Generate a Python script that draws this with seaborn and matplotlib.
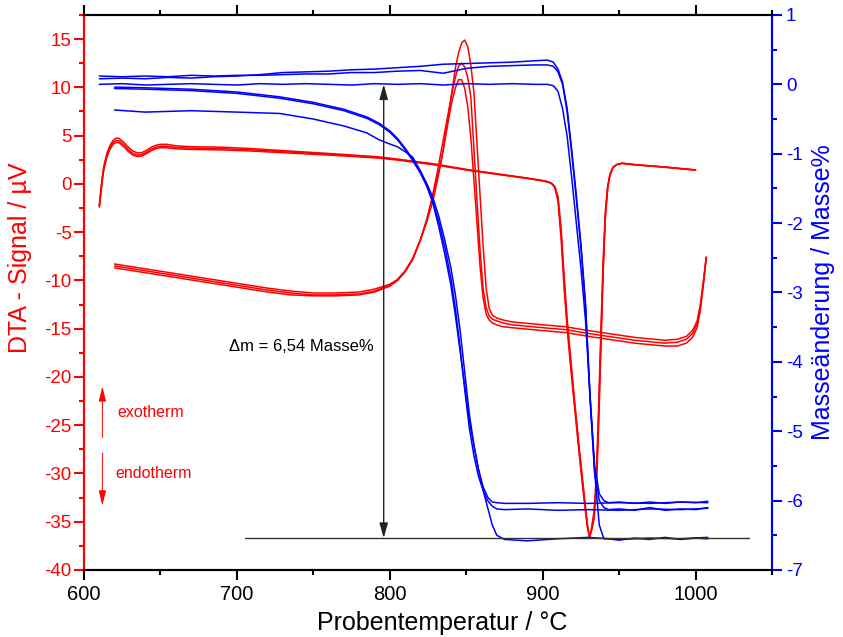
import numpy as np
import pandas as pd
import matplotlib
matplotlib.use("Agg")
import matplotlib.pyplot as plt
import seaborn as sns
from matplotlib.ticker import MultipleLocator

# --- DTA (left axis, µV) ---------------------------------------------------
t_dta_heat = [610, 611, 612, 613, 615, 617, 619, 621, 623, 626,
              629, 632, 635, 638, 641, 644, 647, 650, 654, 660,
              670, 690, 710, 740, 770, 793, 806, 830, 850, 870,
              890, 900, 904, 906, 908, 910, 912, 914, 916, 918,
              920, 922, 924, 926, 928, 929.5, 930.7, 932, 933.5, 935,
              936.5, 938, 939.5, 941, 942.5, 944, 946, 949, 952, 960,
              980, 1000]
dta_heat_1 = [-2.2, -0.6, 0.8, 1.9, 3.2, 4.0, 4.5, 4.75, 4.7, 4.3,
              3.8, 3.4, 3.2, 3.25, 3.5, 3.8, 4.0, 4.1, 4.1, 3.95,
              3.85, 3.8, 3.65, 3.35, 3.05, 2.8, 2.55, 2.05, 1.5, 1.05,
              0.6, 0.35, 0.2, 0.05, -0.3, -1.3, -4.5, -9.5, -14.0, -17.5,
              -21.0, -24.3, -27.5, -30.5, -33.5, -35.6, -36.6, -35.9, -34.8, -32.0,
              -25.5, -17.5, -9.5, -3.5, -0.5, 0.9, 1.7, 2.05, 2.15, 2.0,
              1.75, 1.45]
dta_heat_2 = [-2.3, -0.8, 0.6, 1.7, 3.0, 3.8, 4.3, 4.5, 4.45, 4.05,
              3.55, 3.15, 2.98, 3.05, 3.3, 3.6, 3.8, 3.9, 3.9, 3.78,
              3.7, 3.65, 3.52, 3.25, 2.97, 2.73, 2.5, 2.0, 1.47, 1.02,
              0.58, 0.33, 0.18, 0.02, -0.4, -1.8, -5.6, -10.8, -15.0, -18.5,
              -21.8, -25.0, -28.2, -31.2, -34.0, -35.8, -36.5, -35.6, -34.0, -30.5,
              -23.5, -15.5, -8.0, -2.8, -0.2, 1.0, 1.75, 2.05, 2.12, 1.98,
              1.72, 1.42]
dta_heat_3 = [-2.4, -1.0, 0.4, 1.5, 2.8, 3.6, 4.1, 4.3, 4.25, 3.85,
              3.35, 2.97, 2.83, 2.9, 3.15, 3.45, 3.65, 3.75, 3.75, 3.63,
              3.57, 3.52, 3.4, 3.15, 2.9, 2.67, 2.45, 1.96, 1.44, 1.0,
              0.56, 0.31, 0.16, 0.0, -0.35, -1.5, -5.0, -10.0, -14.5, -18.0,
              -21.4, -24.6, -27.8, -30.8, -33.8, -35.7, -36.6, -35.8, -34.5, -31.5,
              -24.5, -16.5, -8.8, -3.2, -0.4, 0.95, 1.72, 2.04, 2.13, 1.99,
              1.74, 1.44]

t_dta_cool = [1007, 1005, 1003, 1001, 998, 994, 988, 980, 960, 930,
              915, 900, 880, 874, 870, 867, 865, 863, 861, 859,
              857, 855, 853, 851, 849, 847, 845, 843, 841, 839,
              837, 835, 833, 831, 829, 827, 824, 820, 815, 810,
              805, 800, 790, 780, 765, 750, 735, 720, 700, 680,
              660, 640, 620]
dta_cool_1 = [-7.6, -10.2, -12.6, -14.2, -15.2, -15.8, -16.1, -16.2, -15.9, -15.2,
              -14.8, -14.6, -14.3, -14.1, -13.9, -13.6, -12.9, -10.8, -6.4, -1.1,
              4.2, 9.5, 12.3, 14.2, 14.9, 14.6, 13.6, 12.1, 10.0, 7.8,
              5.6, 3.6, 1.8, 0.3, -1.2, -2.4, -4.0, -5.8, -7.7, -9.0,
              -9.9, -10.4, -10.9, -11.2, -11.3, -11.3, -11.1, -10.8, -10.3, -9.8,
              -9.3, -8.8, -8.3]
dta_cool_2 = [-7.6, -10.4, -12.9, -14.5, -15.5, -16.1, -16.4, -16.5, -16.2, -15.5,
              -15.1, -14.9, -14.6, -14.4, -14.2, -14.0, -13.7, -12.8, -10.8, -6.8,
              -1.7, 3.7, 9.0, 11.0, 12.1, 12.5, 12.2, 11.1, 9.7, 8.0,
              6.3, 4.6, 2.9, 1.2, -0.4, -1.9, -3.8, -5.8, -7.8, -9.1,
              -10.0, -10.5, -11.1, -11.4, -11.5, -11.5, -11.3, -11.0, -10.5, -10.0,
              -9.5, -9.0, -8.5]
dta_cool_3 = [-7.6, -10.6, -13.2, -14.9, -15.9, -16.5, -16.8, -16.8, -16.5, -15.8,
              -15.4, -15.2, -14.9, -14.8, -14.6, -14.4, -14.1, -13.5, -11.8, -8.5,
              -4.0, 0.4, 4.8, 8.0, 9.9, 10.8, 10.8, 10.0, 8.8, 7.2,
              5.4, 3.6, 2.0, 0.6, -0.7, -2.0, -3.8, -5.8, -7.8, -9.1,
              -10.0, -10.6, -11.2, -11.5, -11.6, -11.6, -11.5, -11.2, -10.7, -10.2,
              -9.7, -9.2, -8.7]

# --- mass change (right axis, Masse%) -------------------------------------
t_mass_heat = [610, 625, 640, 655, 670, 685, 700, 715, 730, 745,
               760, 775, 790, 805, 820, 835, 850, 865, 880, 895,
               903, 907, 910, 913, 916, 919, 922, 925, 928, 931,
               934, 937, 940, 943, 950, 960, 970, 980, 990, 1000,
               1008]
mass_heat_1 = [0.08, 0.09, 0.08, 0.10, 0.09, 0.11, 0.12, 0.14, 0.17, 0.18,
               0.19, 0.21, 0.22, 0.24, 0.26, 0.29, 0.30, 0.31, 0.32, 0.34,
               0.35, 0.32, 0.22, 0.03, -0.35, -0.95, -1.6, -2.3, -3.15, -4.5,
               -5.5, -5.9, -6.0, -6.03, -6.02, -6.04, -6.02, -6.04, -6.02, -6.03,
               -6.01]
mass_heat_2 = [0.12, 0.11, 0.12, 0.11, 0.13, 0.12, 0.13, 0.13, 0.14, 0.15,
               0.15, 0.17, 0.17, 0.19, 0.20, 0.16, 0.23, 0.26, 0.27, 0.28,
               0.28, 0.26, 0.18, 0.0, -0.4, -1.0, -1.65, -2.35, -3.2, -4.55,
               -5.6, -6.0, -6.1, -6.13, -6.12, -6.14, -6.1, -6.14, -6.12, -6.13,
               -6.1]
mass_heat_3 = [0.0, 0.01, -0.01, 0.0, 0.01, 0.0, -0.01, 0.01, 0.0, 0.01,
               0.0, -0.01, 0.01, 0.0, 0.01, -0.01, 0.01, 0.0, 0.01, 0.0,
               0.0, -0.02, -0.1, -0.35, -0.75, -1.35, -2.0, -2.65, -3.4, -4.5,
               -5.6, -6.35, -6.55, -6.55, -6.57, -6.54, -6.56, -6.53, -6.56, -6.54,
               -6.55]

t_mass_cool = [1008, 990, 970, 950, 930, 910, 890, 875, 870, 867,
               864, 861, 858, 855, 852, 849, 846, 843, 840, 836,
               832, 828, 824, 820, 815, 810, 805, 800, 793, 785,
               770, 750, 728, 700, 670, 640, 620]
mass_cool_1 = [-6.03, -6.02, -6.04, -6.03, -6.04, -6.03, -6.04, -6.04, -6.03, -6.02,
               -5.95, -5.8, -5.55, -5.2, -4.75, -4.15, -3.55, -3.05, -2.65, -2.25,
               -1.9, -1.62, -1.42, -1.25, -1.08, -0.92, -0.78, -0.67, -0.56, -0.47,
               -0.36, -0.26, -0.18, -0.11, -0.07, -0.05, -0.04]
mass_cool_2 = [-6.11, -6.13, -6.12, -6.14, -6.13, -6.14, -6.12, -6.13, -6.12, -6.08,
               -6.0, -5.85, -5.65, -5.35, -4.95, -4.4, -3.8, -3.25, -2.8, -2.35,
               -1.98, -1.68, -1.46, -1.28, -1.1, -0.94, -0.8, -0.69, -0.58, -0.49,
               -0.38, -0.28, -0.2, -0.13, -0.09, -0.07, -0.06]
mass_cool_3 = [-6.53, -6.55, -6.54, -6.56, -6.53, -6.55, -6.58, -6.56, -6.5, -6.35,
               -6.1, -5.85, -5.55, -5.2, -4.85, -4.35, -3.85, -3.35, -2.9, -2.45,
               -2.05, -1.7, -1.45, -1.25, -1.05, -0.97, -0.9, -0.86, -0.8, -0.7,
               -0.6, -0.5, -0.42, -0.4, -0.38, -0.4, -0.37]

delta_m = 6.54
delta_m_label = "Δm = 6,54 Masse%"

RED = "#ff0000"
BLUE = "#0000ff"


def long_frame(segments):
    """(x, y) Segmente in ein langes DataFrame mit Laufnummer."""
    frames = []
    for i, (x, y) in enumerate(segments):
        frames.append(pd.DataFrame({"T": x, "val": y, "run": i}))
    return pd.concat(frames, ignore_index=True)


dta_df = long_frame([(t_dta_heat, dta_heat_1), (t_dta_heat, dta_heat_2),
                     (t_dta_heat, dta_heat_3), (t_dta_cool, dta_cool_1),
                     (t_dta_cool, dta_cool_2), (t_dta_cool, dta_cool_3)])
mass_df = long_frame([(t_mass_heat, mass_heat_1), (t_mass_heat, mass_heat_2),
                      (t_mass_heat, mass_heat_3), (t_mass_cool, mass_cool_1),
                      (t_mass_cool, mass_cool_2), (t_mass_cool, mass_cool_3)])

sns.set_theme(style="ticks")
plt.rcParams["font.family"] = ["Liberation Sans", "DejaVu Sans"]
plt.rcParams["axes.unicode_minus"] = False

fig, ax = plt.subplots(figsize=(8.43, 6.37), dpi=100)
fig.subplots_adjust(left=0.0997, right=0.9158, top=0.9765, bottom=0.1052)
ax2 = ax.twinx()

sns.lineplot(data=dta_df, x="T", y="val", units="run", estimator=None,
             sort=False, color=RED, linewidth=1.1, legend=False, ax=ax)
sns.lineplot(data=mass_df, x="T", y="val", units="run", estimator=None,
             sort=False, color=BLUE, linewidth=1.1, legend=False, ax=ax2)

ax.set_xlim(600, 1050)
ax.set_ylim(-40, 17.5)
ax2.set_ylim(-7, 1)

ax.xaxis.set_major_locator(MultipleLocator(100))
ax.xaxis.set_minor_locator(MultipleLocator(50))
ax.yaxis.set_major_locator(MultipleLocator(5))
ax.yaxis.set_minor_locator(MultipleLocator(2.5))
ax2.yaxis.set_major_locator(MultipleLocator(1))
ax2.yaxis.set_minor_locator(MultipleLocator(0.5))

# Achsen / Ticks
for a in (ax, ax2):
    for s in a.spines.values():
        s.set_linewidth(1.5)
        s.set_color("black")
    a.spines["left"].set_color(RED)
    a.spines["right"].set_color(BLUE)

ax.tick_params(axis="x", which="both", direction="out", top=True, bottom=True,
               labeltop=False, colors="black", width=1.5, labelsize=14.5)
ax.tick_params(axis="x", which="major", length=7, pad=3.5)
ax.tick_params(axis="x", which="minor", length=3.5)
ax.tick_params(axis="y", which="both", direction="out", colors=RED, width=1.5,
               labelsize=13.5, pad=2)
ax.tick_params(axis="y", which="major", length=7)
ax.tick_params(axis="y", which="minor", length=3.5)
ax2.tick_params(axis="y", which="both", direction="out", colors=BLUE, width=1.5,
                labelsize=13.5, pad=3)
ax2.tick_params(axis="y", which="major", length=7)
ax2.tick_params(axis="y", which="minor", length=3.5)

ax.set_xlabel("Probentemperatur / °C", fontsize=18, color="black")
ax.set_ylabel("DTA - Signal / µV", fontsize=18, color=RED)
ax2.set_ylabel("Masseänderung / Masse%", fontsize=18, color=BLUE)
ax.xaxis.set_label_coords(0.52, -0.074)
ax.yaxis.set_label_coords(-0.076, 0.562)
ax2.yaxis.set_label_coords(1.057, 0.5)

# Massenverlust-Markierung
ax2.plot([705, 1035], [-delta_m, -delta_m], color="#333333", lw=1.0)
ax2.annotate("", xy=(796, 0), xytext=(796, -delta_m),
             arrowprops=dict(arrowstyle="<|-|>,head_length=0.6,head_width=0.17",
                             color="#222222", lw=1.0, shrinkA=0, shrinkB=0,
                             mutation_scale=15))
ax2.text(695, -3.78, delta_m_label, fontsize=12, ha="left", va="center",
         color="black")

# exotherm / endotherm
ax.annotate("", xy=(612, -21.0), xytext=(612, -26.3),
            arrowprops=dict(arrowstyle="-|>,head_length=0.6,head_width=0.15",
                            color=RED, lw=0.7, shrinkA=0, shrinkB=0,
                            mutation_scale=15))
ax.annotate("", xy=(612, -33.3), xytext=(612, -27.9),
            arrowprops=dict(arrowstyle="-|>,head_length=0.6,head_width=0.15",
                            color=RED, lw=0.7, shrinkA=0, shrinkB=0,
                            mutation_scale=15))
ax.text(621.6, -23.7, "exotherm", fontsize=11.5, color=RED, ha="left", va="center")
ax.text(620.3, -30.05, "endotherm", fontsize=11.5, color=RED, ha="left", va="center")

fig.savefig("out.png", dpi=100)
